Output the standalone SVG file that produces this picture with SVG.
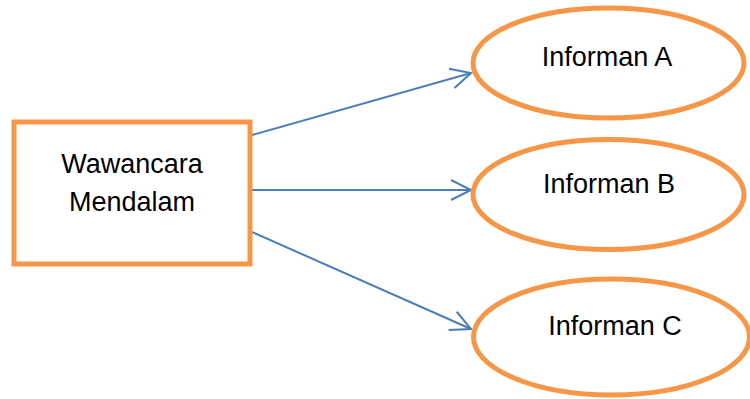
<svg xmlns="http://www.w3.org/2000/svg" width="750" height="399" viewBox="0 0 750 399">
<style>
.box{fill:#fff;stroke:#F79646;stroke-width:5}
.t{font-family:"Liberation Sans",Arial,sans-serif;font-size:27px;fill:#000;text-anchor:middle}
.c{fill:none;stroke:#4A7EBB;stroke-width:2}
</style>
<defs>
<marker id="ah" markerUnits="userSpaceOnUse" markerWidth="24" markerHeight="24" viewBox="0 0 24 24" refX="21" refY="12" orient="auto">
<path d="M1,2 L21,12 L1,22" fill="none" stroke="#4A7EBB" stroke-width="2"/>
</marker>
</defs>
<rect width="750" height="399" fill="#fff"/>
<g id="connectors">
<line class="c" x1="252" y1="135" x2="471" y2="73" marker-end="url(#ah)"/>
<line class="c" x1="252" y1="190" x2="471" y2="190" marker-end="url(#ah)"/>
<line class="c" x1="252" y1="232" x2="471" y2="329" marker-end="url(#ah)"/>
</g>
<g id="wawancara">
<rect class="box" x="14" y="122" width="236" height="142"/>
<text class="t" x="132" y="173">Wawancara</text>
<text class="t" x="132" y="211">Mendalam</text>
</g>
<g id="informanA">
<ellipse class="box" cx="608.5" cy="63" rx="135.5" ry="55"/>
<text class="t" x="607" y="66">Informan A</text>
</g>
<g id="informanB">
<ellipse class="box" cx="608.5" cy="194.5" rx="135.5" ry="55"/>
<text class="t" x="609" y="193">Informan B</text>
</g>
<g id="informanC">
<ellipse class="box" cx="611.5" cy="337" rx="138" ry="58"/>
<text class="t" x="615" y="335">Informan C</text>
</g>
</svg>
